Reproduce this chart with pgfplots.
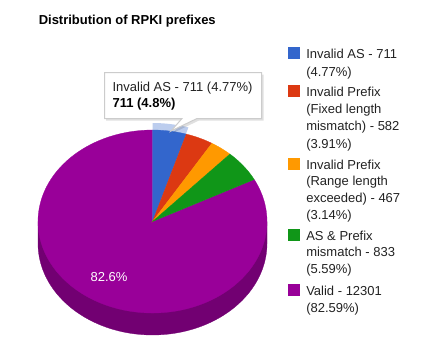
\documentclass[border=0pt]{standalone}
\usepackage{fontspec}
\setmainfont{Liberation Sans}
\usepackage{pgfplots}
\pgfplotsset{compat=1.18}
\definecolor{cblue}{HTML}{3366CC}
\definecolor{cred}{HTML}{DC3912}
\definecolor{corange}{HTML}{FF9900}
\definecolor{cgreen}{HTML}{109618}
\definecolor{cpurple}{HTML}{990099}
\definecolor{cside}{HTML}{720072}
\definecolor{chalo}{HTML}{BCCDEE}
\definecolor{ctext}{HTML}{222222}
\definecolor{cborder}{HTML}{CCCCCC}
\newcommand\legfont{\fontsize{9.75}{11}\selectfont}
\begin{document}
\begin{tikzpicture}
\def\vA{711}\def\vB{582}\def\vC{467}\def\vD{833}\def\vE{12301}
\pgfmathsetmacro\tot{\vA+\vB+\vC+\vD+\vE}
\pgfmathsetmacro\aA{90-360*(\vA/\tot)}
\pgfmathsetmacro\aB{\aA-360*(\vB/\tot)}
\pgfmathsetmacro\aC{\aB-360*(\vC/\tot)}
\pgfmathsetmacro\aD{\aC-360*(\vD/\tot)}
\def\cx{152.5}\def\cy{221.5}\def\rx{114.5}\def\ry{91.5}\def\dep{22}
\begin{axis}[scale only axis, width=317.25pt, height=271.5pt,
  xmin=0, xmax=423, ymin=0, ymax=362, y dir=reverse,
  hide axis, clip=false]
\path (axis cs:0,0) (axis cs:423,362);
% side of the pie
\addplot[fill=cside, draw=cside, line width=0.2pt, domain=180:360, samples=90]
  ({\cx+\rx*cos(x)},{\cy+\dep-\ry*sin(x)}) -- (axis cs:267,221.5) -- (axis cs:38,221.5) -- cycle;
% halo of highlighted slice
\addplot[fill=chalo, draw=none, domain=\aA:90, samples=20]
  ({\cx+(\rx+7)*cos(x)},{\cy-(\ry+7)*sin(x)}) -- (axis cs:152.5,221.5) -- cycle;
% slices
\addplot[fill=cpurple, draw=cpurple, line width=0.2pt, domain=-270:\aD, samples=200]
  ({\cx+\rx*cos(x)},{\cy-\ry*sin(x)}) -- (axis cs:152.5,221.5) -- cycle;
\addplot[fill=cblue, draw=cblue, line width=0.2pt, domain=\aA:90, samples=20]
  ({\cx+\rx*cos(x)},{\cy-\ry*sin(x)}) -- (axis cs:152.5,221.5) -- cycle;
\addplot[fill=cred, draw=cred, line width=0.2pt, domain=\aB:\aA, samples=20]
  ({\cx+\rx*cos(x)},{\cy-\ry*sin(x)}) -- (axis cs:152.5,221.5) -- cycle;
\addplot[fill=corange, draw=corange, line width=0.2pt, domain=\aC:\aB, samples=20]
  ({\cx+\rx*cos(x)},{\cy-\ry*sin(x)}) -- (axis cs:152.5,221.5) -- cycle;
\addplot[fill=cgreen, draw=cgreen, line width=0.2pt, domain=\aD:\aC, samples=20]
  ({\cx+\rx*cos(x)},{\cy-\ry*sin(x)}) -- (axis cs:152.5,221.5) -- cycle;
% slice label
\node[anchor=base, font=\legfont, text=white, inner sep=0] at (axis cs:109,281) {82.6\%};
% title
\node[anchor=base west, font=\legfont\bfseries, text=black, inner sep=0] at (axis cs:38.5,24) {Distribution of RPKI prefixes};
% legend squares
\addplot[fill=cblue, draw=none] coordinates {(288,47) (300,47) (300,59) (288,59)} -- cycle;
\addplot[fill=cred, draw=none] coordinates {(288,85) (300,85) (300,97) (288,97)} -- cycle;
\addplot[fill=corange, draw=none] coordinates {(288,158) (300,158) (300,170) (288,170)} -- cycle;
\addplot[fill=cgreen, draw=none] coordinates {(288,229) (300,229) (300,241) (288,241)} -- cycle;
\addplot[fill=cpurple, draw=none] coordinates {(288,284) (300,284) (300,296) (288,296)} -- cycle;
% legend texts
\tikzset{lg/.style={anchor=base west, font=\legfont, text=ctext, inner sep=0}}
\node[lg] at (axis cs:306,58.5) {Invalid AS - 711};
\node[lg] at (axis cs:306,76) {(4.77\%)};
\node[lg] at (axis cs:306,96.5) {Invalid Prefix};
\node[lg] at (axis cs:306,113.5) {(Fixed length};
\node[lg] at (axis cs:306,130.5) {mismatch) - 582};
\node[lg] at (axis cs:306,148) {(3.91\%)};
\node[lg] at (axis cs:306,169) {Invalid Prefix};
\node[lg] at (axis cs:306,185.8) {(Range length};
\node[lg] at (axis cs:306,202.5) {exceeded) - 467};
\node[lg] at (axis cs:306,219.5) {(3.14\%)};
\node[lg] at (axis cs:306,240) {AS \& Prefix};
\node[lg] at (axis cs:306,256.8) {mismatch - 833};
\node[lg] at (axis cs:306,273.5) {(5.59\%)};
\node[lg] at (axis cs:306,295.7) {Valid - 12301};
\node[lg] at (axis cs:306,312.4) {(82.59\%)};
% tooltip
\addplot[fill=black, fill opacity=0.12, draw=none] coordinates {(106,74.5) (263.5,74.5) (263.5,120.5) (199,120.5) (173,133) (184,120.5) (106,120.5)} -- cycle;
\addplot[fill=white, draw=cborder, line width=0.75pt] coordinates {(104.5,72.5) (261.5,72.5) (261.5,118.5) (197,118.5) (171,131) (182,118.5) (104.5,118.5)} -- cycle;
\node[lg, text=ctext] at (axis cs:112.3,91.7) {Invalid AS - 711 (4.77\%)};
\node[lg, text=black, font=\legfont\bfseries] at (axis cs:112.3,107.7) {711 (4.8\%)};
\end{axis}
\end{tikzpicture}
\end{document}
